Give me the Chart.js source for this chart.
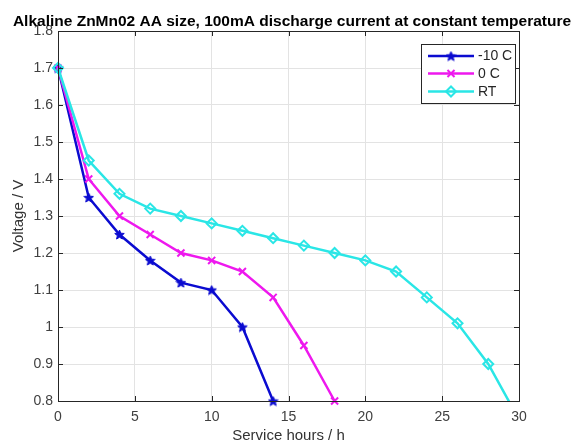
<!DOCTYPE html>
<html>
<head>
<meta charset="utf-8">
<script src="https://cdn.jsdelivr.net/npm/chart.js@4.4.1/dist/chart.umd.min.js"></script>
<style>
  html, body { margin: 0; padding: 0; background: #fff; }
  #wrap { width: 574px; height: 445px; }
</style>
</head>
<body>
<div id="wrap"><canvas id="chart"></canvas></div>
<script>
// Data
const titleText = 'Alkaline ZnMn02 AA size, 100mA discharge current at constant temperature';
const seriesNames = ['-10 C', '0 C', 'RT'];
const hoursMinus10 = [0, 2, 4, 6, 8, 10, 12, 14];
const voltsMinus10 = [1.7, 1.35, 1.25, 1.18, 1.12, 1.1, 1.0, 0.8];
const hoursZero = [0, 2, 4, 6, 8, 10, 12, 14, 16, 18];
const voltsZero = [1.7, 1.4, 1.3, 1.25, 1.2, 1.18, 1.15, 1.08, 0.95, 0.8];
const hoursRT = [0, 2, 4, 6, 8, 10, 12, 14, 16, 18, 20, 22, 24, 26, 28, 30];
const voltsRT = [1.7, 1.45, 1.36, 1.32, 1.3, 1.28, 1.26, 1.24, 1.22, 1.2, 1.18, 1.15, 1.08, 1.01, 0.9, 0.75];
const xTicks = [0, 5, 10, 15, 20, 25, 30];
const yTicks = [0.8, 0.9, 1.0, 1.1, 1.2, 1.3, 1.4, 1.5, 1.6, 1.7, 1.8];

const FONT = "'Liberation Sans', Arial, sans-serif";
const AXIS_COLOR = '#262626';
const BLUE = '#0b0bd0';
const MAGENTA = '#ee18ee';
const CYAN = '#2ae6e6';

// pentagram marker (matlab 'p')
function makeStar(color, size) {
  const c = document.createElement('canvas');
  c.width = c.height = size;
  const g = c.getContext('2d');
  const cx = size / 2, cy = size / 2 + 0.5, R = size / 2 - 0.5, r = R * 0.45;
  g.beginPath();
  for (let i = 0; i < 10; i++) {
    const a = -Math.PI / 2 + i * Math.PI / 5;
    const rr = i % 2 ? r : R;
    g.lineTo(cx + rr * Math.cos(a), cy + rr * Math.sin(a));
  }
  g.closePath();
  g.fillStyle = color;
  g.fill();
  g.strokeStyle = color;
  g.lineWidth = 1;
  g.stroke();
  return c;
}

const toPoints = (xs, ys) => xs.map((x, i) => ({ x: x, y: ys[i] }));
const looseClip = { left: 12, top: 12, right: 12, bottom: 12 };

const datasets = [
  {
    label: seriesNames[0],
    data: toPoints(hoursMinus10, voltsMinus10),
    borderColor: BLUE,
    backgroundColor: BLUE,
    borderWidth: 2.5,
    pointStyle: makeStar(BLUE, 11),
    pointRadius: 5,
    order: 3,
    clip: looseClip
  },
  {
    label: seriesNames[1],
    data: toPoints(hoursZero, voltsZero),
    borderColor: MAGENTA,
    backgroundColor: MAGENTA,
    borderWidth: 2.5,
    pointStyle: 'crossRot',
    pointRadius: 5,
    pointBorderWidth: 2,
    order: 2,
    clip: looseClip
  },
  {
    label: seriesNames[2],
    data: toPoints(hoursRT, voltsRT),
    borderColor: CYAN,
    backgroundColor: 'rgba(0,0,0,0)',
    borderWidth: 2.5,
    pointStyle: 'rectRot',
    pointRadius: 5,
    pointBorderWidth: 2,
    order: 1,
    clip: { left: 12, top: 12, right: 0, bottom: 0 }
  }
];

// box, inward ticks, title and the inside legend
const framePlugin = {
  id: 'frame',
  afterDraw(chart) {
    const { ctx, chartArea: a, scales } = chart;
    ctx.save();
    ctx.strokeStyle = AXIS_COLOR;
    ctx.lineWidth = 1;
    ctx.beginPath();
    scales.x.ticks.forEach(t => {
      const px = Math.round(scales.x.getPixelForValue(t.value)) + 0.5;
      ctx.moveTo(px, a.bottom); ctx.lineTo(px, a.bottom - 5);
      ctx.moveTo(px, a.top); ctx.lineTo(px, a.top + 5);
    });
    scales.y.ticks.forEach(t => {
      const py = Math.round(scales.y.getPixelForValue(t.value)) + 0.5;
      ctx.moveTo(a.left, py); ctx.lineTo(a.left + 5, py);
      ctx.moveTo(a.right, py); ctx.lineTo(a.right - 5, py);
    });
    ctx.stroke();
    ctx.strokeRect(Math.round(a.left) + 0.5, Math.round(a.top) + 0.5,
      Math.round(a.right - a.left), Math.round(a.bottom - a.top));

    // title
    ctx.fillStyle = '#000';
    ctx.font = 'bold 15.5px ' + FONT;
    ctx.textAlign = 'center';
    ctx.textBaseline = 'alphabetic';
    ctx.fillText(titleText, 292, 26);

    // legend
    const lx = 421, ly = 44, lw = 94, lh = 59;
    ctx.fillStyle = '#fff';
    ctx.fillRect(lx, ly, lw, lh);
    ctx.strokeStyle = AXIS_COLOR;
    ctx.strokeRect(lx + 0.5, ly + 0.5, lw, lh);
    ctx.font = '14px ' + FONT;
    ctx.textAlign = 'left';
    ctx.textBaseline = 'middle';
    const rows = [56, 73.5, 91.5];
    datasets.forEach((ds, i) => {
      const y = rows[i];
      ctx.strokeStyle = ds.borderColor;
      ctx.lineWidth = 2.5;
      ctx.beginPath();
      ctx.moveTo(428, y); ctx.lineTo(474, y);
      ctx.stroke();
      ctx.fillStyle = ds.backgroundColor;
      ctx.lineWidth = ds.pointBorderWidth || 1;
      Chart.helpers.drawPoint(ctx, {
        pointStyle: ds.pointStyle,
        radius: ds.pointRadius,
        borderWidth: ds.pointBorderWidth || 1,
        rotation: 0
      }, 451, y);
      ctx.fillStyle = AXIS_COLOR;
      ctx.fillText(ds.label, 478, y + 0.5);
    });
    ctx.restore();
  }
};

const fmt = v => String(Number(v.toFixed(1)));

new Chart(document.getElementById('chart'), {
  type: 'line',
  data: { datasets: datasets },
  options: {
    responsive: true,
    maintainAspectRatio: false,
    animation: false,
    layout: { padding: { top: 31, right: 55, left: 0, bottom: 0 } },
    elements: {
      line: { tension: 0 },
      point: { hoverRadius: 5 }
    },
    plugins: {
      legend: { display: false },
      title: { display: false },
      tooltip: { enabled: false }
    },
    scales: {
      x: {
        type: 'linear',
        min: 0,
        max: 30,
        afterBuildTicks: s => { s.ticks = xTicks.map(v => ({ value: v })); },
        afterFit: s => { s.height = 44; },
        grid: { color: '#e3e3e3', lineWidth: 1, drawTicks: false },
        border: { display: false },
        ticks: {
          padding: 8,
          color: '#404040',
          font: { family: FONT, size: 14 },
          callback: v => fmt(v)
        },
        title: {
          display: true,
          text: 'Service hours / h',
          color: '#333',
          font: { family: FONT, size: 15 },
          padding: { top: 0, bottom: 0 }
        }
      },
      y: {
        type: 'linear',
        min: 0.8,
        max: 1.8,
        afterBuildTicks: s => { s.ticks = yTicks.map(v => ({ value: v })); },
        afterFit: s => { s.width = 58; },
        grid: { color: '#e3e3e3', lineWidth: 1, drawTicks: false },
        border: { display: false },
        ticks: {
          padding: 5,
          color: '#404040',
          font: { family: FONT, size: 14 },
          callback: v => fmt(v)
        },
        title: {
          display: true,
          text: 'Voltage / V',
          color: '#333',
          font: { family: FONT, size: 15 },
          padding: { top: 10, bottom: 0 }
        }
      }
    }
  },
  plugins: [framePlugin]
});
</script>
</body>
</html>
